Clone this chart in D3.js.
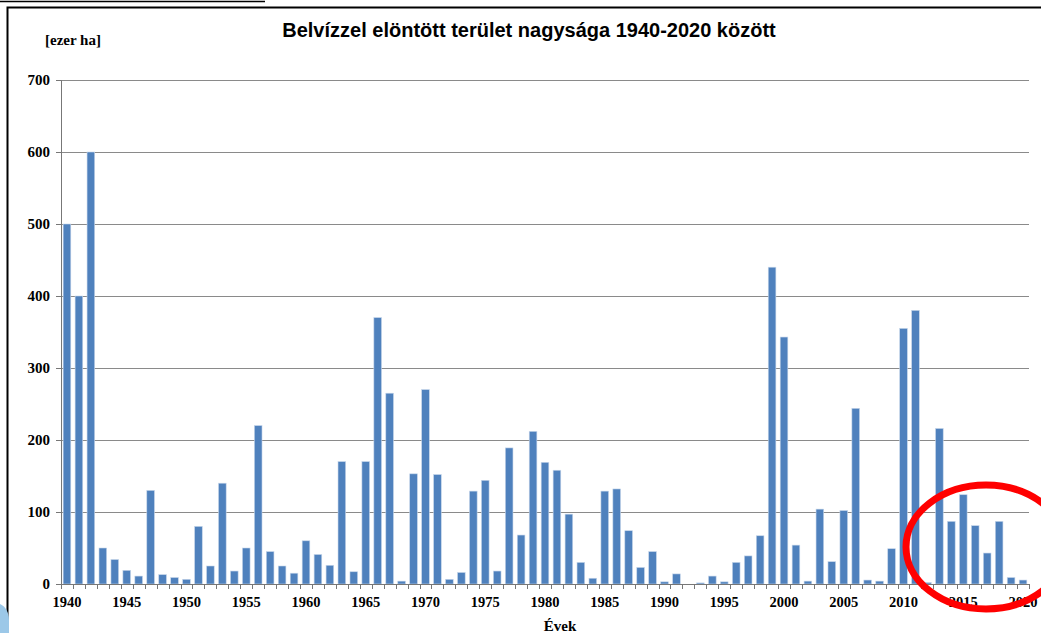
<!DOCTYPE html>
<html>
<head>
<meta charset="utf-8">
<script src="https://cdn.jsdelivr.net/npm/d3@7"></script>
<style>
  body { margin: 0; background: #fff; }
  svg { display: block; }
</style>
</head>
<body>
<svg id="chart"></svg>
<script>
// data (ezer ha)
var years = d3.range(1940, 2021);
var values = [
  500, 400, 600, 50, 34, 19, 11, 130, 13, 9,
  6.5, 80, 25, 140, 18, 50, 220, 45, 25, 15,
  60, 41, 26, 170, 17, 170, 370, 265, 4, 153,
  270, 152, 6.5, 16, 129, 144, 18, 189, 68, 212,
  169, 158, 97, 30, 8, 129, 132, 74, 23, 45,
  3, 14, 0, 1.5, 11, 3, 30, 39, 67, 440,
  343, 54, 4, 104, 31, 102, 244, 5.5, 4, 49,
  355, 380, 2, 216, 87, 124, 81, 43, 87, 9,
  5.5
];
var yTicks = [0, 100, 200, 300, 400, 500, 600, 700];
var xLabels = [1940, 1945, 1950, 1955, 1960, 1965, 1970, 1975, 1980, 1985, 1990, 1995, 2000, 2005, 2010, 2015, 2020];

var data = years.map(function(y, i) { return {year: y, value: values[i]}; });

var W = 1041, H = 633,
    margin = {top: 80, right: 12, bottom: 49, left: 61},
    width = W - margin.left - margin.right,
    height = H - margin.top - margin.bottom;

var serif = "'Liberation Serif', 'Times New Roman', serif";

var svg = d3.select("#chart").attr("width", W).attr("height", H);

// frame lines from the slide
svg.append("line").attr("x1", 0).attr("x2", 265).attr("y1", 1.5).attr("y2", 1.5)
    .attr("stroke", "#000").attr("stroke-width", 1.5);
svg.append("path").attr("d", "M7.5," + H + "V7.5H" + W)
    .attr("fill", "none").attr("stroke", "#000").attr("stroke-width", 2);
// bit of blue shape at bottom left
svg.append("path").attr("d", "M0,604 C5,606 9,612 9,620 L9," + H + " L0," + H + "Z")
    .attr("fill", "#9cc8e8");

var g = svg.append("g").attr("transform", "translate(" + margin.left + "," + margin.top + ")");

var pad = 0.36;
var x = d3.scaleBand().domain(years).range([0, width]).paddingInner(pad).paddingOuter(pad / 2);
var y = d3.scaleLinear().domain([0, 700]).range([height, 0]);

// gridlines
g.append("g").selectAll("line")
    .data(yTicks.filter(function(d) { return d > 0; }))
  .enter().append("line")
    .attr("x1", 0).attr("x2", width)
    .attr("y1", function(d) { return Math.round(y(d)) + 0.5; })
    .attr("y2", function(d) { return Math.round(y(d)) + 0.5; })
    .attr("stroke", "#8a8a8a").attr("stroke-width", 1);

// bars
g.append("g").selectAll("rect")
    .data(data)
  .enter().append("rect")
    .attr("x", function(d) { return x(d.year); })
    .attr("y", function(d) { return y(d.value); })
    .attr("width", x.bandwidth())
    .attr("height", function(d) { return height - y(d.value); })
    .attr("fill", "#4f81bd")
    .attr("stroke", "#c6d6ea").attr("stroke-width", 0.6);

// y axis
var yAxis = g.append("g").attr("class", "axis")
    .call(d3.axisLeft(y).tickValues(yTicks).tickSize(5).tickPadding(6).tickFormat(d3.format("d")));
yAxis.select(".domain").attr("stroke", "#777");
yAxis.selectAll(".tick line").attr("stroke", "#777");
yAxis.selectAll("text")
    .style("font-family", serif)
    .style("font-weight", "bold").style("font-size", "15px").attr("fill", "#000");

// x axis: baseline, ticks between categories, labels every 5 years
var xa = g.append("g").attr("transform", "translate(0," + height + ")");
xa.append("line").attr("x1", 0).attr("x2", width).attr("y1", 0.5).attr("y2", 0.5)
    .attr("stroke", "#777");
xa.selectAll(".tk")
    .data(d3.range(years.length + 1))
  .enter().append("line")
    .attr("x1", function(i) { return Math.round(i * x.step()) + 0.5; })
    .attr("x2", function(i) { return Math.round(i * x.step()) + 0.5; })
    .attr("y1", 0).attr("y2", 5)
    .attr("stroke", "#777");
xa.selectAll("text")
    .data(xLabels)
  .enter().append("text")
    .attr("x", function(d) { return x(d) + x.bandwidth() / 2; })
    .attr("y", 23)
    .attr("text-anchor", "middle")
    .style("font-family", serif)
    .style("font-weight", "bold").style("font-size", "14.5px")
    .text(function(d) { return d; });

// titles
svg.append("text")
    .attr("x", 529).attr("y", 37)
    .attr("text-anchor", "middle")
    .style("font-family", "'Liberation Sans', Arial, sans-serif")
    .style("font-weight", "bold").style("font-size", "20px")
    .text("Belvízzel elöntött terület nagysága 1940-2020 között");

svg.append("text")
    .attr("x", 45).attr("y", 45)
    .style("font-family", serif)
    .style("font-weight", "bold").style("font-size", "15px")
    .text("[ezer ha]");

svg.append("text")
    .attr("x", 560).attr("y", 631)
    .attr("text-anchor", "middle")
    .style("font-family", serif)
    .style("font-weight", "bold").style("font-size", "15px")
    .text("Évek");

// red ellipse marking the last years
svg.append("ellipse")
    .attr("cx", 986).attr("cy", 547).attr("rx", 80).attr("ry", 62)
    .attr("fill", "none").attr("stroke", "#ff0000").attr("stroke-width", 7);
</script>
</body>
</html>
